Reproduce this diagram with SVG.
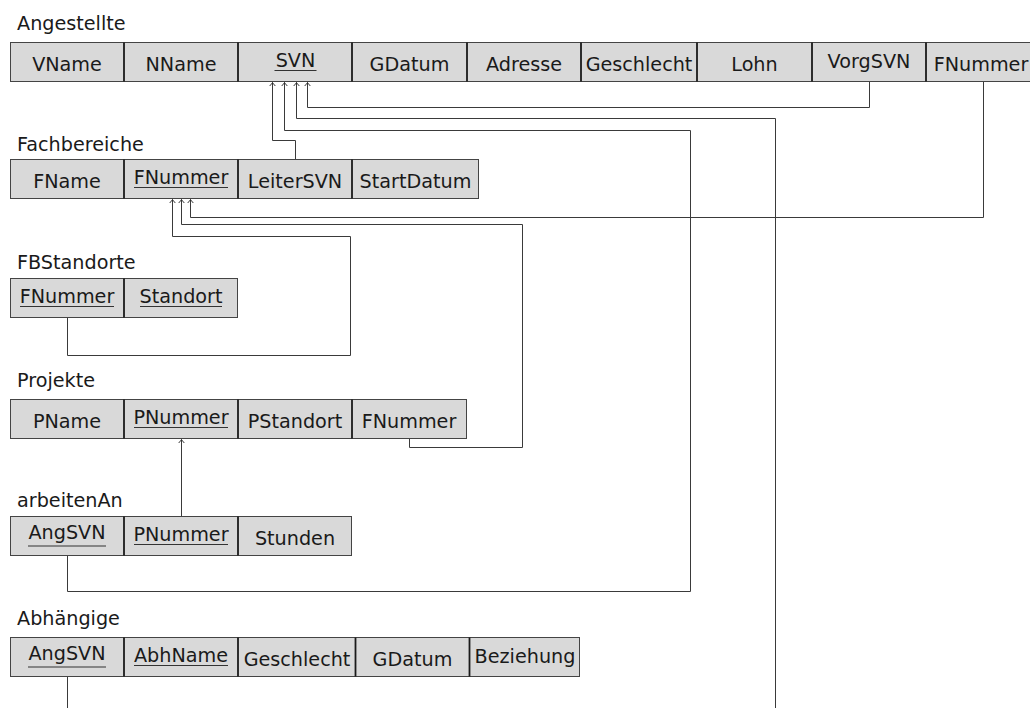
<svg xmlns="http://www.w3.org/2000/svg" width="1030" height="708" viewBox="0 0 1030 708">
<style>
text{font-family:"DejaVu Sans","Liberation Sans",sans-serif;font-size:19.2px;fill:#1a1a1a}
.t{text-anchor:start}
.v{text-anchor:middle}
.c{fill:#d9d9d9;stroke:#444;stroke-width:1}
.d{stroke:#1a1a1a;stroke-width:1.8}
.u{stroke:#333;stroke-width:1.2}
.k{fill:none;stroke:#3a3a3a;stroke-width:1}
</style>
<defs>
<marker id="ar" markerUnits="userSpaceOnUse" markerWidth="10" markerHeight="10" viewBox="-5 -5 10 10" refX="0" refY="0" orient="auto">
<path d="M-3.5,-2.8 Q-1,-0.6 0,0 Q-1,0.6 -3.5,2.8" fill="none" stroke="#222" stroke-width="0.9"/>
</marker>
</defs>
<rect width="1030" height="708" fill="#fff"/>

<g id="connectors">
<polyline class="k" points="869.5,82 869.5,107.5 307.5,107.5 307.5,82.5" marker-end="url(#ar)"/>
<polyline class="k" points="775.5,708 775.5,118.5 296.5,118.5 296.5,82.5" marker-end="url(#ar)"/>
<polyline class="k" points="67.5,556 67.5,591.5 690.5,591.5 690.5,130.5 284.5,130.5 284.5,82.5" marker-end="url(#ar)"/>
<polyline class="k" points="295.5,159 295.5,140.5 272.5,140.5 272.5,82.5" marker-end="url(#ar)"/>
<polyline class="k" points="983.5,82 983.5,217.5 190.5,217.5 190.5,199.5" marker-end="url(#ar)"/>
<polyline class="k" points="409.5,439 409.5,447.5 522.5,447.5 522.5,224.5 181.5,224.5 181.5,199.5" marker-end="url(#ar)"/>
<polyline class="k" points="67.5,318 67.5,355.5 350.5,355.5 350.5,236.5 172.5,236.5 172.5,199.5" marker-end="url(#ar)"/>
<polyline class="k" points="181.5,516 181.5,439.5" marker-end="url(#ar)"/>
<line class="k" x1="67.5" y1="677" x2="67.5" y2="708"/>
</g>

<g id="Angestellte">
<text class="t" x="17" y="30">Angestellte</text>
<rect class="c" x="10.5" y="42.5" width="1030" height="39"/>
<line class="d" x1="124" y1="42.5" x2="124" y2="81.5"/>
<line class="d" x1="238" y1="42.5" x2="238" y2="81.5"/>
<line class="d" x1="352" y1="42.5" x2="352" y2="81.5"/>
<line class="d" x1="467" y1="42.5" x2="467" y2="81.5"/>
<line class="d" x1="581" y1="42.5" x2="581" y2="81.5"/>
<line class="d" x1="697" y1="42.5" x2="697" y2="81.5"/>
<line class="d" x1="812" y1="42.5" x2="812" y2="81.5"/>
<line class="d" x1="926" y1="42.5" x2="926" y2="81.5"/>
<text class="v" x="67" y="70.5">VName</text>
<text class="v" x="181" y="70.5">NName</text>
<text class="v" x="295.5" y="67">SVN</text>
<line class="u" x1="274.5" y1="70.5" x2="316.5" y2="70.5"/>
<text class="v" x="409.5" y="70.5">GDatum</text>
<text class="v" x="524" y="70.5">Adresse</text>
<text class="v" x="639" y="70.5">Geschlecht</text>
<text class="v" x="754.5" y="70.5">Lohn</text>
<text class="v" x="869" y="68">VorgSVN</text>
<text class="v" x="981" y="70.5">FNummer</text>
</g>

<g id="Fachbereiche">
<text class="t" x="17" y="150.5">Fachbereiche</text>
<rect class="c" x="10.5" y="159.5" width="468" height="39"/>
<line class="d" x1="124" y1="159.5" x2="124" y2="198.5"/>
<line class="d" x1="238" y1="159.5" x2="238" y2="198.5"/>
<line class="d" x1="352" y1="159.5" x2="352" y2="198.5"/>
<text class="v" x="67" y="187.5">FName</text>
<text class="v" x="181" y="184">FNummer</text>
<line class="u" x1="134" y1="187.5" x2="228" y2="187.5"/>
<text class="v" x="295" y="187.5">LeiterSVN</text>
<text class="v" x="415.5" y="187.5">StartDatum</text>
</g>

<g id="FBStandorte">
<text class="t" x="17" y="268.5">FBStandorte</text>
<rect class="c" x="10.5" y="278.5" width="227" height="39"/>
<line class="d" x1="124" y1="278.5" x2="124" y2="317.5"/>
<text class="v" x="67" y="303">FNummer</text>
<line class="u" x1="20" y1="306.5" x2="114" y2="306.5"/>
<text class="v" x="181" y="303">Standort</text>
<line class="u" x1="140" y1="306.5" x2="222" y2="306.5"/>
</g>

<g id="Projekte">
<text class="t" x="17" y="386.5">Projekte</text>
<rect class="c" x="10.5" y="399.5" width="456" height="39"/>
<line class="d" x1="124" y1="399.5" x2="124" y2="438.5"/>
<line class="d" x1="238" y1="399.5" x2="238" y2="438.5"/>
<line class="d" x1="352" y1="399.5" x2="352" y2="438.5"/>
<text class="v" x="67" y="427.5">PName</text>
<text class="v" x="181" y="424">PNummer</text>
<line class="u" x1="134" y1="427.5" x2="228" y2="427.5"/>
<text class="v" x="295" y="427.5">PStandort</text>
<text class="v" x="409" y="427.5">FNummer</text>
</g>

<g id="arbeitenAn">
<text class="t" x="17" y="506.5">arbeitenAn</text>
<rect class="c" x="10.5" y="516.5" width="341" height="39"/>
<line class="d" x1="124" y1="516.5" x2="124" y2="555.5"/>
<line class="d" x1="238" y1="516.5" x2="238" y2="555.5"/>
<text class="v" x="67" y="538.5">AngSVN</text>
<line class="u" x1="28" y1="546" x2="106" y2="546"/>
<text class="v" x="181" y="541">PNummer</text>
<line class="u" x1="134" y1="544.5" x2="228" y2="544.5"/>
<text class="v" x="295" y="544.5">Stunden</text>
</g>

<g id="Abhaengige">
<text class="t" x="17" y="625">Abhängige</text>
<rect class="c" x="10.5" y="637.5" width="569" height="39"/>
<line class="d" x1="124" y1="637.5" x2="124" y2="676.5"/>
<line class="d" x1="238" y1="637.5" x2="238" y2="676.5"/>
<line class="d" x1="355.5" y1="637.5" x2="355.5" y2="676.5"/>
<line class="d" x1="469.5" y1="637.5" x2="469.5" y2="676.5"/>
<text class="v" x="67" y="659.5">AngSVN</text>
<line class="u" x1="28" y1="667" x2="106" y2="667"/>
<text class="v" x="181" y="662">AbhName</text>
<line class="u" x1="134" y1="665.5" x2="228" y2="665.5"/>
<text class="v" x="297" y="665.5">Geschlecht</text>
<text class="v" x="412.5" y="665.5">GDatum</text>
<text class="v" x="525" y="663">Beziehung</text>
</g>
</svg>
